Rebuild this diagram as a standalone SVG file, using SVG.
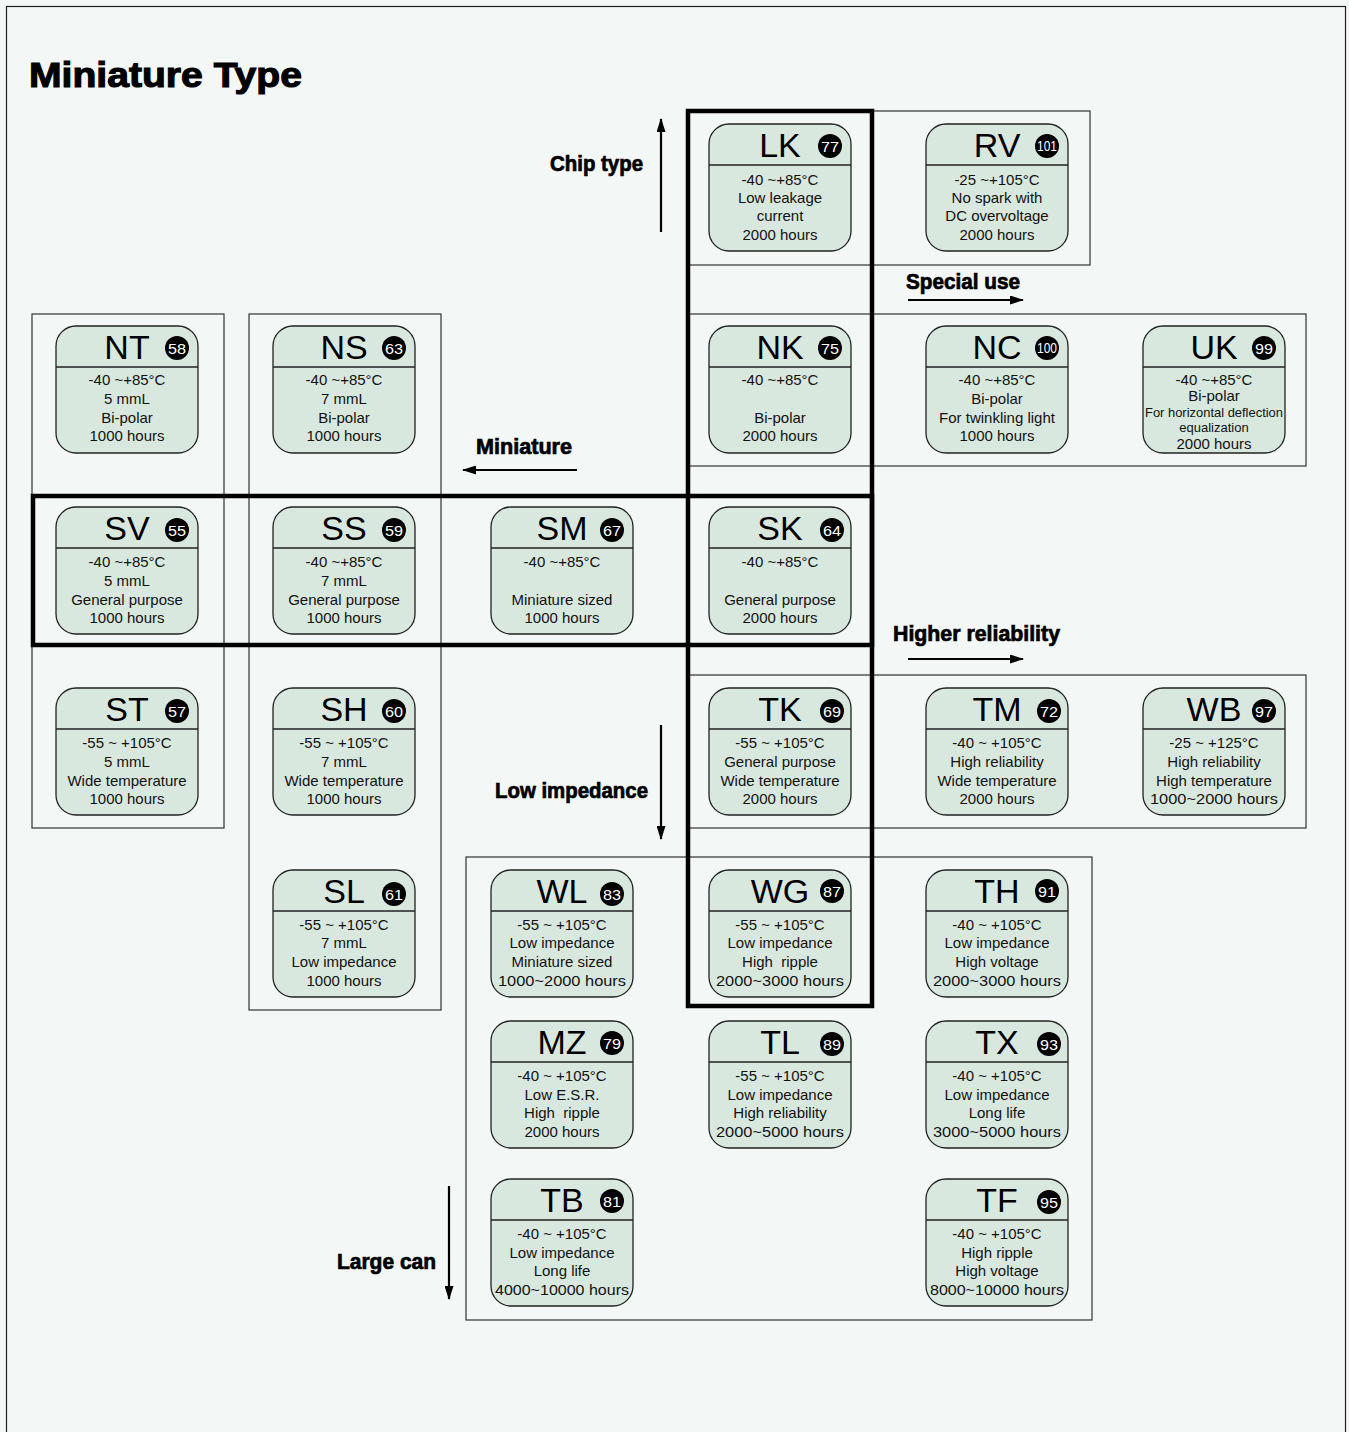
<svg xmlns="http://www.w3.org/2000/svg" width="1349" height="1432" viewBox="0 0 1349 1432">
<style>
.bg{fill:#f3f7f6}
.frame{fill:none;stroke:#222;stroke-width:1.2}
.thin{fill:none;stroke:#333;stroke-width:1.2}
.heavy{fill:none;stroke:#000;stroke-width:4.5}
.nb{fill:#d9e8df;stroke:#222;stroke-width:1.3}
.dv{stroke:#222;stroke-width:1.3}
.t{font-family:"Liberation Sans",Arial,sans-serif;font-size:34px;fill:#000;text-anchor:middle}
.b{font-family:"Liberation Sans",Arial,sans-serif;font-size:15px;fill:#111;text-anchor:middle}
.bs{font-family:"Liberation Sans",Arial,sans-serif;font-size:13px;fill:#111;text-anchor:middle}
.nc{fill:#000}
.nn{font-family:"Liberation Sans Narrow","Liberation Sans",Arial,sans-serif;font-size:15px;fill:#fff;text-anchor:middle}
.lab{font-family:"Liberation Sans Narrow","Liberation Sans",Arial,sans-serif;font-weight:bold;font-size:22px;fill:#000;stroke:#000;stroke-width:0.7}
.arr{stroke:#000;stroke-width:2.2;fill:none;marker-end:url(#ah)}
</style>
<defs>
<marker id="ah" markerWidth="14" markerHeight="9" refX="13" refY="4.5" orient="auto" markerUnits="userSpaceOnUse"><path d="M0,0 L14,4.5 L0,9 z" fill="#000"/></marker>
<path id="shape" d="M20,0 H122 A20,20 0 0 1 142,20 V107 A20,20 0 0 1 122,127 H20 A20,20 0 0 1 0,107 V20 A20,20 0 0 1 20,0 z"/>
</defs>
<rect class="bg" x="0" y="0" width="1349" height="1432"/>
<rect class="frame" x="6.5" y="6.5" width="1339" height="1450"/>
<text x="29" y="87" font-family="Liberation Sans,Arial,sans-serif" font-weight="bold" font-size="35" stroke="#000" stroke-width="1.1" textLength="273" lengthAdjust="spacingAndGlyphs">Miniature Type</text>

<g id="groups">
<rect class="thin" x="688" y="111" width="402" height="154"/>
<rect class="thin" x="688" y="314" width="618" height="152"/>
<rect class="thin" x="32" y="314" width="192" height="514"/>
<rect class="thin" x="249" y="314" width="192" height="696"/>
<rect class="thin" x="688" y="675" width="618" height="153"/>
<rect class="thin" x="466" y="857" width="626" height="463"/>
<rect class="heavy" x="688" y="111" width="184" height="895"/>
<rect class="heavy" x="33" y="496" width="839" height="149"/>
</g>

<g id="connectors">
<line class="arr" x1="661" y1="232" x2="661" y2="119"/>
<line class="arr" x1="908" y1="300" x2="1023" y2="300"/>
<line class="arr" x1="577" y1="470" x2="463" y2="470"/>
<line class="arr" x1="908" y1="659" x2="1023" y2="659"/>
<line class="arr" x1="661" y1="725" x2="661" y2="839"/>
<line class="arr" x1="449" y1="1186" x2="449" y2="1299"/>
</g>

<g id="labels">
<text class="lab" x="550" y="171" textLength="93" lengthAdjust="spacingAndGlyphs">Chip type</text>
<text class="lab" x="906" y="289" textLength="114" lengthAdjust="spacingAndGlyphs">Special use</text>
<text class="lab" x="476" y="454" textLength="96" lengthAdjust="spacingAndGlyphs">Miniature</text>
<text class="lab" x="893" y="641" textLength="167" lengthAdjust="spacingAndGlyphs">Higher reliability</text>
<text class="lab" x="495" y="798" textLength="153" lengthAdjust="spacingAndGlyphs">Low impedance</text>
<text class="lab" x="337" y="1269" textLength="99" lengthAdjust="spacingAndGlyphs">Large can</text>
</g>

<g id="node-LK" transform="translate(709,124)"><use href="#shape" class="nb"/><line class="dv" x1="0" y1="41" x2="142" y2="41"/><text class="t" x="71" y="33">LK</text><circle class="nc" cx="121" cy="22" r="12"/><text class="nn" x="121" y="27.5" textLength="18" lengthAdjust="spacingAndGlyphs">77</text><text class="b" x="71" y="61">-40 ~+85°C</text><text class="b" x="71" y="79">Low leakage</text><text class="b" x="71" y="97">current</text><text class="b" x="71" y="116">2000 hours</text></g>

<g id="node-RV" transform="translate(926,124)"><use href="#shape" class="nb"/><line class="dv" x1="0" y1="41" x2="142" y2="41"/><text class="t" x="71" y="33">RV</text><circle class="nc" cx="121" cy="22" r="12"/><text class="nn" x="121" y="27" font-size="13" textLength="20" lengthAdjust="spacingAndGlyphs">101</text><text class="b" x="71" y="61">-25 ~+105°C</text><text class="b" x="71" y="79">No spark with</text><text class="b" x="71" y="97">DC overvoltage</text><text class="b" x="71" y="116">2000 hours</text></g>

<g id="node-NT" transform="translate(56,326)"><use href="#shape" class="nb"/><line class="dv" x1="0" y1="41" x2="142" y2="41"/><text class="t" x="71" y="33">NT</text><circle class="nc" cx="121" cy="22" r="12"/><text class="nn" x="121" y="27.5" textLength="18" lengthAdjust="spacingAndGlyphs">58</text><text class="b" x="71" y="59">-40 ~+85°C</text><text class="b" x="71" y="78">5 mmL</text><text class="b" x="71" y="97">Bi-polar</text><text class="b" x="71" y="115">1000 hours</text></g>

<g id="node-NS" transform="translate(273,326)"><use href="#shape" class="nb"/><line class="dv" x1="0" y1="41" x2="142" y2="41"/><text class="t" x="71" y="33">NS</text><circle class="nc" cx="121" cy="22" r="12"/><text class="nn" x="121" y="27.5" textLength="18" lengthAdjust="spacingAndGlyphs">63</text><text class="b" x="71" y="59">-40 ~+85°C</text><text class="b" x="71" y="78">7 mmL</text><text class="b" x="71" y="97">Bi-polar</text><text class="b" x="71" y="115">1000 hours</text></g>

<g id="node-NK" transform="translate(709,326)"><use href="#shape" class="nb"/><line class="dv" x1="0" y1="41" x2="142" y2="41"/><text class="t" x="71" y="33">NK</text><circle class="nc" cx="121" cy="22" r="12"/><text class="nn" x="121" y="27.5" textLength="18" lengthAdjust="spacingAndGlyphs">75</text><text class="b" x="71" y="59">-40 ~+85°C</text><text class="b" x="71" y="97">Bi-polar</text><text class="b" x="71" y="115">2000 hours</text></g>

<g id="node-NC" transform="translate(926,326)"><use href="#shape" class="nb"/><line class="dv" x1="0" y1="41" x2="142" y2="41"/><text class="t" x="71" y="33">NC</text><circle class="nc" cx="121" cy="22" r="12"/><text class="nn" x="121" y="27" font-size="13" textLength="20" lengthAdjust="spacingAndGlyphs">100</text><text class="b" x="71" y="59">-40 ~+85°C</text><text class="b" x="71" y="78">Bi-polar</text><text class="b" x="71" y="97">For twinkling light</text><text class="b" x="71" y="115">1000 hours</text></g>

<g id="node-UK" transform="translate(1143,326)"><use href="#shape" class="nb"/><line class="dv" x1="0" y1="41" x2="142" y2="41"/><text class="t" x="71" y="33">UK</text><circle class="nc" cx="121" cy="22" r="12"/><text class="nn" x="121" y="27.5" textLength="18" lengthAdjust="spacingAndGlyphs">99</text><text class="b" x="71" y="59">-40 ~+85°C</text><text class="b" x="71" y="75">Bi-polar</text><text class="bs" x="71" y="91" textLength="138" lengthAdjust="spacingAndGlyphs">For horizontal deflection</text><text class="bs" x="71" y="106">equalization</text><text class="b" x="71" y="123">2000 hours</text></g>

<g id="node-SV" transform="translate(56,507)"><use href="#shape" class="nb"/><line class="dv" x1="0" y1="41" x2="142" y2="41"/><text class="t" x="71" y="33">SV</text><circle class="nc" cx="121" cy="23" r="12"/><text class="nn" x="121" y="28.5" textLength="18" lengthAdjust="spacingAndGlyphs">55</text><text class="b" x="71" y="60">-40 ~+85°C</text><text class="b" x="71" y="79">5 mmL</text><text class="b" x="71" y="98">General purpose</text><text class="b" x="71" y="116">1000 hours</text></g>

<g id="node-SS" transform="translate(273,507)"><use href="#shape" class="nb"/><line class="dv" x1="0" y1="41" x2="142" y2="41"/><text class="t" x="71" y="33">SS</text><circle class="nc" cx="121" cy="23" r="12"/><text class="nn" x="121" y="28.5" textLength="18" lengthAdjust="spacingAndGlyphs">59</text><text class="b" x="71" y="60">-40 ~+85°C</text><text class="b" x="71" y="79">7 mmL</text><text class="b" x="71" y="98">General purpose</text><text class="b" x="71" y="116">1000 hours</text></g>

<g id="node-SM" transform="translate(491,507)"><use href="#shape" class="nb"/><line class="dv" x1="0" y1="41" x2="142" y2="41"/><text class="t" x="71" y="33">SM</text><circle class="nc" cx="121" cy="23" r="12"/><text class="nn" x="121" y="28.5" textLength="18" lengthAdjust="spacingAndGlyphs">67</text><text class="b" x="71" y="60">-40 ~+85°C</text><text class="b" x="71" y="98">Miniature sized</text><text class="b" x="71" y="116">1000 hours</text></g>

<g id="node-SK" transform="translate(709,507)"><use href="#shape" class="nb"/><line class="dv" x1="0" y1="41" x2="142" y2="41"/><text class="t" x="71" y="33">SK</text><circle class="nc" cx="123" cy="23" r="12"/><text class="nn" x="123" y="28.5" textLength="18" lengthAdjust="spacingAndGlyphs">64</text><text class="b" x="71" y="60">-40 ~+85°C</text><text class="b" x="71" y="98">General purpose</text><text class="b" x="71" y="116">2000 hours</text></g>

<g id="node-ST" transform="translate(56,688)"><use href="#shape" class="nb"/><line class="dv" x1="0" y1="41" x2="142" y2="41"/><text class="t" x="71" y="33">ST</text><circle class="nc" cx="121" cy="23" r="12"/><text class="nn" x="121" y="28.5" textLength="18" lengthAdjust="spacingAndGlyphs">57</text><text class="b" x="71" y="60">-55 ~ +105°C</text><text class="b" x="71" y="79">5 mmL</text><text class="b" x="71" y="98">Wide temperature</text><text class="b" x="71" y="116">1000 hours</text></g>

<g id="node-SH" transform="translate(273,688)"><use href="#shape" class="nb"/><line class="dv" x1="0" y1="41" x2="142" y2="41"/><text class="t" x="71" y="33">SH</text><circle class="nc" cx="121" cy="23" r="12"/><text class="nn" x="121" y="28.5" textLength="18" lengthAdjust="spacingAndGlyphs">60</text><text class="b" x="71" y="60">-55 ~ +105°C</text><text class="b" x="71" y="79">7 mmL</text><text class="b" x="71" y="98">Wide temperature</text><text class="b" x="71" y="116">1000 hours</text></g>

<g id="node-TK" transform="translate(709,688)"><use href="#shape" class="nb"/><line class="dv" x1="0" y1="41" x2="142" y2="41"/><text class="t" x="71" y="33">TK</text><circle class="nc" cx="123" cy="23" r="12"/><text class="nn" x="123" y="28.5" textLength="18" lengthAdjust="spacingAndGlyphs">69</text><text class="b" x="71" y="60">-55 ~ +105°C</text><text class="b" x="71" y="79">General purpose</text><text class="b" x="71" y="98">Wide temperature</text><text class="b" x="71" y="116">2000 hours</text></g>

<g id="node-TM" transform="translate(926,688)"><use href="#shape" class="nb"/><line class="dv" x1="0" y1="41" x2="142" y2="41"/><text class="t" x="71" y="33">TM</text><circle class="nc" cx="123" cy="23" r="12"/><text class="nn" x="123" y="28.5" textLength="18" lengthAdjust="spacingAndGlyphs">72</text><text class="b" x="71" y="60">-40 ~ +105°C</text><text class="b" x="71" y="79">High reliability</text><text class="b" x="71" y="98">Wide temperature</text><text class="b" x="71" y="116">2000 hours</text></g>

<g id="node-WB" transform="translate(1143,688)"><use href="#shape" class="nb"/><line class="dv" x1="0" y1="41" x2="142" y2="41"/><text class="t" x="71" y="33">WB</text><circle class="nc" cx="121" cy="23" r="12"/><text class="nn" x="121" y="28.5" textLength="18" lengthAdjust="spacingAndGlyphs">97</text><text class="b" x="71" y="60">-25 ~ +125°C</text><text class="b" x="71" y="79">High reliability</text><text class="b" x="71" y="98">High temperature</text><text class="b" x="71" y="116" textLength="128" lengthAdjust="spacingAndGlyphs">1000~2000 hours</text></g>

<g id="node-SL" transform="translate(273,870)"><use href="#shape" class="nb"/><line class="dv" x1="0" y1="41" x2="142" y2="41"/><text class="t" x="71" y="33">SL</text><circle class="nc" cx="121" cy="24" r="12"/><text class="nn" x="121" y="29.5" textLength="18" lengthAdjust="spacingAndGlyphs">61</text><text class="b" x="71" y="60">-55 ~ +105°C</text><text class="b" x="71" y="78">7 mmL</text><text class="b" x="71" y="97">Low impedance</text><text class="b" x="71" y="116">1000 hours</text></g>

<g id="node-WL" transform="translate(491,870)"><use href="#shape" class="nb"/><line class="dv" x1="0" y1="41" x2="142" y2="41"/><text class="t" x="71" y="33">WL</text><circle class="nc" cx="121" cy="24" r="12"/><text class="nn" x="121" y="29.5" textLength="18" lengthAdjust="spacingAndGlyphs">83</text><text class="b" x="71" y="60">-55 ~ +105°C</text><text class="b" x="71" y="78">Low impedance</text><text class="b" x="71" y="97">Miniature sized</text><text class="b" x="71" y="116" textLength="128" lengthAdjust="spacingAndGlyphs">1000~2000 hours</text></g>

<g id="node-WG" transform="translate(709,870)"><use href="#shape" class="nb"/><line class="dv" x1="0" y1="41" x2="142" y2="41"/><text class="t" x="71" y="33">WG</text><circle class="nc" cx="123" cy="21" r="12"/><text class="nn" x="123" y="26.5" textLength="18" lengthAdjust="spacingAndGlyphs">87</text><text class="b" x="71" y="60">-55 ~ +105°C</text><text class="b" x="71" y="78">Low impedance</text><text class="b" x="71" y="97" xml:space="preserve">High  ripple</text><text class="b" x="71" y="116" textLength="128" lengthAdjust="spacingAndGlyphs">2000~3000 hours</text></g>

<g id="node-TH" transform="translate(926,870)"><use href="#shape" class="nb"/><line class="dv" x1="0" y1="41" x2="142" y2="41"/><text class="t" x="71" y="33">TH</text><circle class="nc" cx="121" cy="21" r="12"/><text class="nn" x="121" y="26.5" textLength="18" lengthAdjust="spacingAndGlyphs">91</text><text class="b" x="71" y="60">-40 ~ +105°C</text><text class="b" x="71" y="78">Low impedance</text><text class="b" x="71" y="97">High voltage</text><text class="b" x="71" y="116" textLength="128" lengthAdjust="spacingAndGlyphs">2000~3000 hours</text></g>

<g id="node-MZ" transform="translate(491,1021)"><use href="#shape" class="nb"/><line class="dv" x1="0" y1="41" x2="142" y2="41"/><text class="t" x="71" y="33">MZ</text><circle class="nc" cx="121" cy="22" r="12"/><text class="nn" x="121" y="27.5" textLength="18" lengthAdjust="spacingAndGlyphs">79</text><text class="b" x="71" y="60">-40 ~ +105°C</text><text class="b" x="71" y="79">Low E.S.R.</text><text class="b" x="71" y="97" xml:space="preserve">High  ripple</text><text class="b" x="71" y="116">2000 hours</text></g>

<g id="node-TL" transform="translate(709,1021)"><use href="#shape" class="nb"/><line class="dv" x1="0" y1="41" x2="142" y2="41"/><text class="t" x="71" y="33">TL</text><circle class="nc" cx="123" cy="23" r="12"/><text class="nn" x="123" y="28.5" textLength="18" lengthAdjust="spacingAndGlyphs">89</text><text class="b" x="71" y="60">-55 ~ +105°C</text><text class="b" x="71" y="79">Low impedance</text><text class="b" x="71" y="97">High reliability</text><text class="b" x="71" y="116" textLength="128" lengthAdjust="spacingAndGlyphs">2000~5000 hours</text></g>

<g id="node-TX" transform="translate(926,1021)"><use href="#shape" class="nb"/><line class="dv" x1="0" y1="41" x2="142" y2="41"/><text class="t" x="71" y="33">TX</text><circle class="nc" cx="123" cy="23" r="12"/><text class="nn" x="123" y="28.5" textLength="18" lengthAdjust="spacingAndGlyphs">93</text><text class="b" x="71" y="60">-40 ~ +105°C</text><text class="b" x="71" y="79">Low impedance</text><text class="b" x="71" y="97">Long life</text><text class="b" x="71" y="116" textLength="128" lengthAdjust="spacingAndGlyphs">3000~5000 hours</text></g>

<g id="node-TB" transform="translate(491,1179)"><use href="#shape" class="nb"/><line class="dv" x1="0" y1="41" x2="142" y2="41"/><text class="t" x="71" y="33">TB</text><circle class="nc" cx="121" cy="22" r="12"/><text class="nn" x="121" y="27.5" textLength="18" lengthAdjust="spacingAndGlyphs">81</text><text class="b" x="71" y="60">-40 ~ +105°C</text><text class="b" x="71" y="79">Low impedance</text><text class="b" x="71" y="97">Long life</text><text class="b" x="71" y="116" textLength="134" lengthAdjust="spacingAndGlyphs">4000~10000 hours</text></g>

<g id="node-TF" transform="translate(926,1179)"><use href="#shape" class="nb"/><line class="dv" x1="0" y1="41" x2="142" y2="41"/><text class="t" x="71" y="33">TF</text><circle class="nc" cx="123" cy="23" r="12"/><text class="nn" x="123" y="28.5" textLength="18" lengthAdjust="spacingAndGlyphs">95</text><text class="b" x="71" y="60">-40 ~ +105°C</text><text class="b" x="71" y="79">High ripple</text><text class="b" x="71" y="97">High voltage</text><text class="b" x="71" y="116" textLength="134" lengthAdjust="spacingAndGlyphs">8000~10000 hours</text></g>
</svg>
